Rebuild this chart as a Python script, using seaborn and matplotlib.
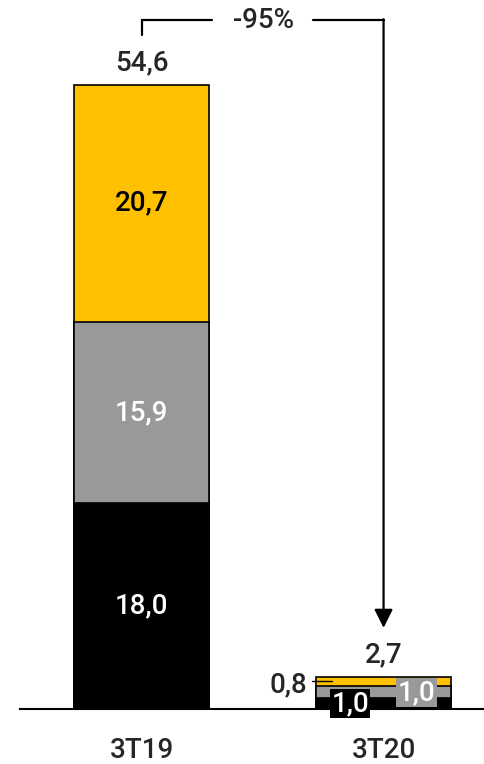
import numpy as np
import pandas as pd
import seaborn as sns
import matplotlib.pyplot as plt

# data
categories = ['3T19', '3T20']
black_vals = [18.0, 1.0]
gray_vals = [15.9, 1.0]
gold_vals = [20.7, 0.8]
totals = [54.6, 2.7]
change_label = '-95%'

GOLD = '#FFC000'
GRAY = '#999999'
BLACK = '#000000'

sns.set_style('white')
plt.rcParams['font.family'] = ['Roboto', 'DejaVu Sans']
plt.rcParams['font.weight'] = 'medium'

fig = plt.figure(figsize=(4.85, 7.64), dpi=100)
ax = fig.add_axes([20 / 485, 55 / 764, 465 / 485, 709 / 764])

df = pd.DataFrame({'cat': categories,
                   'black': black_vals,
                   'gray': gray_vals,
                   'gold': gold_vals})
df['lvl1'] = df['black']
df['lvl2'] = df['black'] + df['gray']
df['lvl3'] = df['lvl2'] + df['gold']

# stacked bars drawn as overlapping cumulative bars
for col, c in [('lvl3', GOLD), ('lvl2', GRAY), ('lvl1', BLACK)]:
    sns.barplot(data=df, x='cat', y=col, color=c, saturation=1, width=0.56,
                edgecolor='black', linewidth=1.2, ax=ax)

ax.set_xlim(-0.502, 1.419)
ax.set_ylim(0, 62.03)
ax.set_xlabel('')
ax.set_ylabel('')
ax.set_yticks([])
for s in ['top', 'right', 'left']:
    ax.spines[s].set_visible(False)
ax.spines['bottom'].set_linewidth(1.5)
ax.spines['bottom'].set_color('black')
ax.tick_params(axis='x', length=0, pad=20, labelsize=20)

fs = 20
# segment labels, first bar
ax.text(0, black_vals[0] / 2, f'{black_vals[0]:.1f}'.replace('.', ','),
        ha='center', va='center', color='white', fontsize=fs)
ax.text(0, black_vals[0] + gray_vals[0] / 2, f'{gray_vals[0]:.1f}'.replace('.', ','),
        ha='center', va='center', color='white', fontsize=fs)
ax.text(0, black_vals[0] + gray_vals[0] + gold_vals[0] / 2,
        f'{gold_vals[0]:.1f}'.replace('.', ','),
        ha='center', va='center', color='black', fontsize=fs)

# totals
for i, t in enumerate(totals):
    ax.annotate(f'{t:.1f}'.replace('.', ','), xy=(i, df['lvl3'][i]),
                xytext=(0, 6), textcoords='offset points',
                ha='center', va='bottom', fontsize=fs)

# small segment labels, second bar
ax.plot([0.705, 0.787], [2.45, 2.45], color='black', lw=1)
ax.text(0.684, 2.1, f'{gold_vals[1]:.1f}'.replace('.', ','),
        ha='right', va='center', fontsize=fs)
ax.text(0.862, 0.48, f'{black_vals[1]:.1f}'.replace('.', ','),
        ha='center', va='center', color='white', fontsize=fs,
        bbox=dict(facecolor=BLACK, edgecolor='none', pad=1))
ax.text(1.136, 1.44, f'{gray_vals[1]:.1f}'.replace('.', ','),
        ha='center', va='center', color='white', fontsize=fs,
        bbox=dict(facecolor=GRAY, edgecolor='none', pad=1))

# bracket with arrow
yb = 60.28
ax.plot([0, 0, 0.29], [58.97, yb, yb], color='black', lw=1.6, clip_on=False,
        solid_joinstyle='miter')
ax.plot([0.709, 1.0], [yb, yb], color='black', lw=1.6, clip_on=False)
ax.annotate('', xy=(1.0, 7.1), xytext=(1.0, yb + 0.07),
            arrowprops=dict(arrowstyle='-|>', lw=1.6, color='black',
                            mutation_scale=28, shrinkA=0, shrinkB=0),
            annotation_clip=False)
ax.text(0.502, yb, change_label, ha='center', va='center', fontsize=fs)

fig.savefig('out.png', dpi=100)
